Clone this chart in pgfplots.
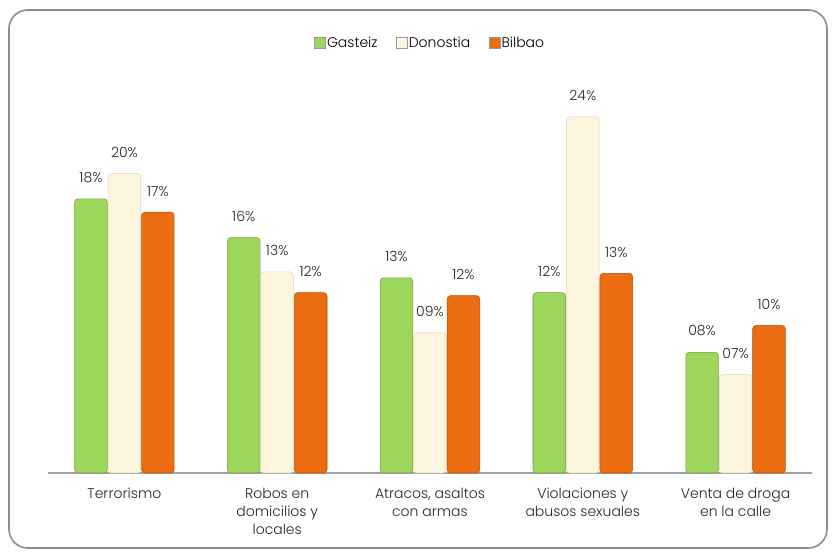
\documentclass[border=0pt]{standalone}
\usepackage{fontspec}
\setmainfont{Poppins}[UprightFont=* Light]
\usepackage{pgfplots}
\pgfplotsset{compat=1.18}
\definecolor{gGreen}{HTML}{9CD65A}
\definecolor{gCream}{HTML}{FDF6DF}
\definecolor{gOrange}{HTML}{EC6C12}
\definecolor{frameGray}{HTML}{8C8C8C}

\begin{document}
\begin{tikzpicture}
\path[use as bounding box] (0pt,0pt) rectangle (627pt,417.75pt);
\draw[frameGray, line width=1.2pt, rounded corners=14pt] (6.75pt,6.75pt) rectangle (620.25pt,410.25pt);
\begin{axis}[
    at={(36pt,63pt)}, anchor=south west,
    scale only axis, width=573pt, height=279.4pt,
    ybar=0.6pt, bar width=24.5pt,
    ymin=0, ymax=25, xmin=-0.5, xmax=4.5,
    axis y line=none, axis x line*=bottom,
    x axis line style={draw=frameGray!80, line width=1.3pt, -},
    xtick={0,1,2,3,4}, major tick length=0pt,
    xticklabels={Terrorismo, {Robos en\\domicilios y\\locales}, {Atracos, asaltos\\con armas}, {Violaciones y\\abusos sexuales}, {Venta de droga\\en la calle}},
    xticklabel style={align=center, font=\fontsize{10.5}{13.5}\selectfont, text=black!85, yshift=-8pt},
    point meta=explicit symbolic,
    nodes near coords,
    every node near coord/.append style={font=\fontsize{10.5}{12}\selectfont, text=black!85, yshift=8.5pt},
    legend columns=3,
    legend style={at={(0.5,1.154)}, anchor=center, draw=none, fill=none,
        font=\fontsize{10.5}{12}\selectfont, column sep=0pt,
        /tikz/every even column/.append style={column sep=13pt},
        nodes={inner xsep=1pt}},
    legend image code/.code={\draw[#1, sharp corners, draw=black!40] (0pt,-4pt) rectangle (8pt,4pt);},
    clip=false,
]
\addplot[fill=gGreen, draw=gGreen!75!black, line width=0.4pt, rounded corners=2.5pt]
    coordinates {(0,18.4) [18\%] (1,15.8) [16\%] (2,13.1) [13\%] (3,12.1) [12\%] (4,8.1) [08\%]};
\addplot[fill=gCream, draw=gCream!70!brown, line width=0.4pt, rounded corners=2.5pt]
    coordinates {(0,20.1) [20\%] (1,13.5) [13\%] (2,9.4) [09\%] (3,23.9) [24\%] (4,6.6) [07\%]};
\addplot[fill=gOrange, draw=gOrange!75!black, line width=0.4pt, rounded corners=2.5pt]
    coordinates {(0,17.5) [17\%] (1,12.1) [12\%] (2,11.9) [12\%] (3,13.4) [13\%] (4,9.9) [10\%]};
\legend{Gasteiz, Donostia, Bilbao}
\end{axis}
\end{tikzpicture}
\end{document}
